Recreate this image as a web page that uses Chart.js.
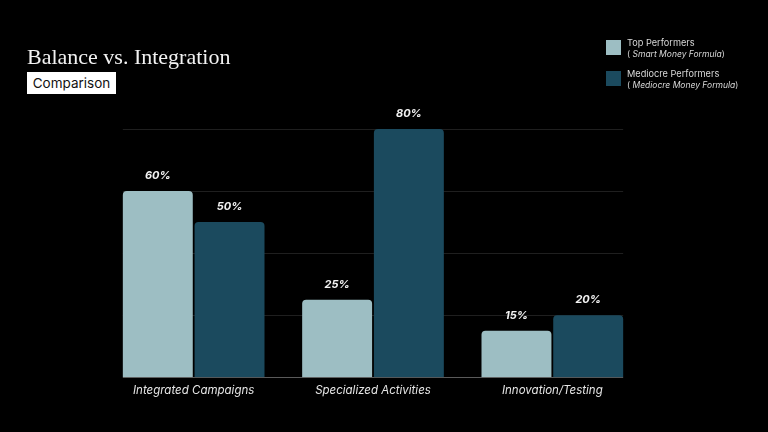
<!DOCTYPE html>
<html>
<head>
<meta charset="utf-8">
<script src="https://cdn.jsdelivr.net/npm/chart.js@4/dist/chart.umd.min.js"></script>
<style>
  html, body { margin: 0; padding: 0; background: #000; }
  #wrap { position: relative; width: 768px; height: 432px; overflow: hidden; }
  #chart { position: absolute; left: 0; top: 0; }
  .title { position: absolute; left: 27px; top: 44px; color: #f2f2f2; font-family: "Liberation Serif", "DejaVu Serif", serif; font-size: 22px; }
  .badge { position: absolute; left: 27px; top: 72px; width: 89px; height: 22px; background: #fff; color: #111; font-family: Inter, "Noto Sans", sans-serif; font-size: 13.5px; line-height: 22px; text-align: center; }
  .legend { position: absolute; left: 606px; top: 37px; font-family: Inter, "Noto Sans", sans-serif; font-size: 9.2px; color: #d8d8d8; }
  .item { position: relative; height: 31px; padding-left: 21px; line-height: 11px; }
  .box { position: absolute; left: 0; top: 3px; width: 15px; height: 15px; }
  .item .note { font-size: 8.5px; }
  .item i { font-style: italic; }
</style>
</head>
<body>
<div id="wrap">
  <canvas id="chart" width="768" height="432"></canvas>
  <div class="title">Balance vs. Integration</div>
  <div class="badge">Comparison</div>
  <div class="legend" id="legend"></div>
</div>
<script>
const categories = ['Integrated Campaigns', 'Specialized Activities', 'Innovation/Testing'];
const topPerformers = [60, 25, 15];
const mediocrePerformers = [50, 80, 20];
const seriesNames = ['Top Performers', 'Mediocre Performers'];
const seriesNotes = ['Smart Money Formula', 'Mediocre Money Formula'];
const yTicks = [0, 20, 40, 60, 80];

const colors = ['#9dbec3', '#1b4a5e'];

// legend (two lines, second one italic)
document.getElementById('legend').innerHTML = seriesNames.map((name, i) =>
  '<div class="item"><span class="box" style="background:' + colors[i] + '"></span>' +
  name + '<br><span class="note">( <i>' + seriesNotes[i] + '</i>)</span></div>'
).join('');

// gridlines only across the bars, plus the baseline
const gridPlugin = {
  id: 'gridPlugin',
  beforeDatasetsDraw(chart) {
    const ctx = chart.ctx;
    const y = chart.scales.y;
    const first = chart.getDatasetMeta(0).data[0];
    const last = chart.getDatasetMeta(1).data[categories.length - 1];
    const left = first.x - first.width / 2;
    const right = last.x + last.width / 2;
    ctx.save();
    yTicks.forEach(v => {
      const py = Math.round(y.getPixelForValue(v)) + 0.5;
      ctx.strokeStyle = v === 0 ? '#5a5a5a' : '#1f1f1f';
      ctx.lineWidth = 1;
      ctx.beginPath();
      ctx.moveTo(left, py);
      ctx.lineTo(right, py);
      ctx.stroke();
    });
    ctx.restore();
  }
};

// value labels above bars
const valuePlugin = {
  id: 'valuePlugin',
  afterDatasetsDraw(chart) {
    const ctx = chart.ctx;
    ctx.save();
    ctx.fillStyle = '#f2f2f2';
    ctx.font = 'italic bold 11px Inter, "Noto Sans", sans-serif';
    ctx.textAlign = 'center';
    ctx.textBaseline = 'middle';
    chart.data.datasets.forEach((ds, i) => {
      chart.getDatasetMeta(i).data.forEach((bar, j) => {
        ctx.fillText(ds.data[j] + '%', bar.x, bar.y - 15);
      });
    });
    ctx.restore();
  }
};

new Chart(document.getElementById('chart'), {
  type: 'bar',
  data: {
    labels: categories,
    datasets: [
      { label: seriesNames[0], data: topPerformers, backgroundColor: colors[0] },
      { label: seriesNames[1], data: mediocrePerformers, backgroundColor: colors[1] }
    ]
  },
  options: {
    responsive: false,
    animation: false,
    layout: { padding: { left: 104, right: 126, top: 129, bottom: 29 } },
    datasets: {
      bar: {
        categoryPercentage: 0.8,
        barPercentage: 0.975,
        borderRadius: { topLeft: 4, topRight: 4 },
        borderSkipped: 'bottom'
      }
    },
    plugins: {
      legend: { display: false },
      tooltip: { enabled: false }
    },
    scales: {
      x: {
        grid: { display: false, drawTicks: false },
        border: { display: false },
        ticks: {
          color: '#e6e6e6',
          padding: 6,
          font: { family: 'Inter, "Noto Sans", sans-serif', size: 11.5, style: 'italic' }
        }
      },
      y: {
        display: false,
        min: 0,
        max: 80,
        ticks: { stepSize: 20 }
      }
    }
  },
  plugins: [gridPlugin, valuePlugin]
});
</script>
</body>
</html>
